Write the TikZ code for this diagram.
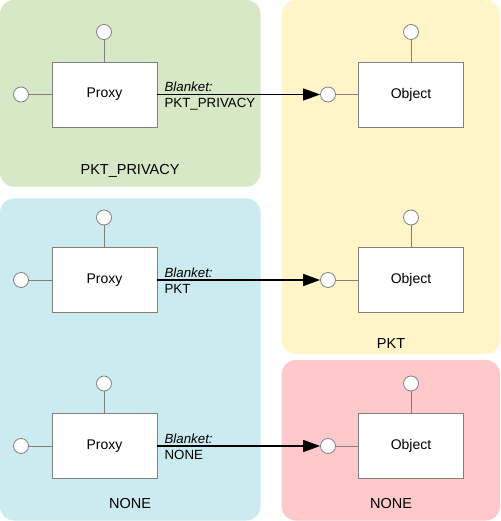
\documentclass[tikz,border=0pt]{standalone}
\usepackage{fontspec}
\setmainfont{Liberation Sans}
\usetikzlibrary{arrows.meta}
\definecolor{regGreen}{RGB}{214,232,198}
\definecolor{regYellow}{RGB}{255,245,200}
\definecolor{regBlue}{RGB}{203,235,240}
\definecolor{regPink}{RGB}{255,200,203}
\definecolor{edgeGray}{RGB}{128,128,128}
\tikzset{
  region/.style={rounded corners=14pt, draw=none},
  compbox/.style={draw=edgeGray, line width=0.8pt, fill=white, minimum width=105pt, minimum height=65pt, inner sep=0pt, font=\fontsize{14}{16}\selectfont},
  port/.style={circle, draw=edgeGray, line width=0.8pt, fill=white, minimum size=15pt, inner sep=0pt},
  stub/.style={draw=edgeGray, line width=0.8pt},
  call/.style={draw=black, line width=1.5pt, -{Triangle[length=17pt,width=12pt]}},
  lbl/.style={font=\fontsize{13.3}{15}\selectfont, inner sep=0pt, anchor=west},
  rlbl/.style={font=\fontsize{14.5}{16}\selectfont, inner sep=0pt}
}
\begin{document}
\begin{tikzpicture}[x=1pt,y=-1pt]
\useasboundingbox (0,0) rectangle (500,521);
% regions
\fill[regGreen, region] (0,0) rectangle (260.5,186.7);
\fill[regBlue, region] (0,198.5) rectangle (260.5,520.5);
\fill[regYellow, region] (281.7,0) rectangle (500,354);
\fill[regPink, region] (281.7,360) rectangle (500,520.5);
% region labels
\node[rlbl] (lg) at (130,171) {PKT\_PRIVACY};
\node[rlbl] (ly) at (391,344) {PKT};
\node[rlbl] (lb) at (130,504) {NONE};
\node[rlbl] (lp) at (391,504) {NONE};
% rows
\foreach \r/\y/\lab in {1/94.5/PKT\_PRIVACY, 2/280/PKT, 3/446/NONE}{
  \node[compbox] (p\r) at (104.5,\y) {Proxy};
  \node[port] (pt\r) at (104,\y-62.5) {};
  \node[port] (pl\r) at (21,\y) {};
  \draw[stub] (pt\r) -- (p\r.north -| pt\r);
  \draw[stub] (pl\r) -- (p\r.west);
  \node[compbox] (o\r) at (411,\y) {Object};
  \node[port] (ot\r) at (411,\y-62.5) {};
  \node[port] (ol\r) at (328,\y) {};
  \draw[stub] (ot\r) -- (o\r.north -| ot\r);
  \draw[stub] (ol\r) -- (o\r.west);
  \draw[call] (p\r.east) -- (ol\r.west);
  \node[lbl, anchor=base west] (bl\r) at ([xshift=7pt,yshift=3pt]p\r.east) {\itshape Blanket:};
  \node[lbl, anchor=base west] (bv\r) at ([xshift=7pt,yshift=-13pt]p\r.east) {\lab};
}
\end{tikzpicture}
\end{document}
